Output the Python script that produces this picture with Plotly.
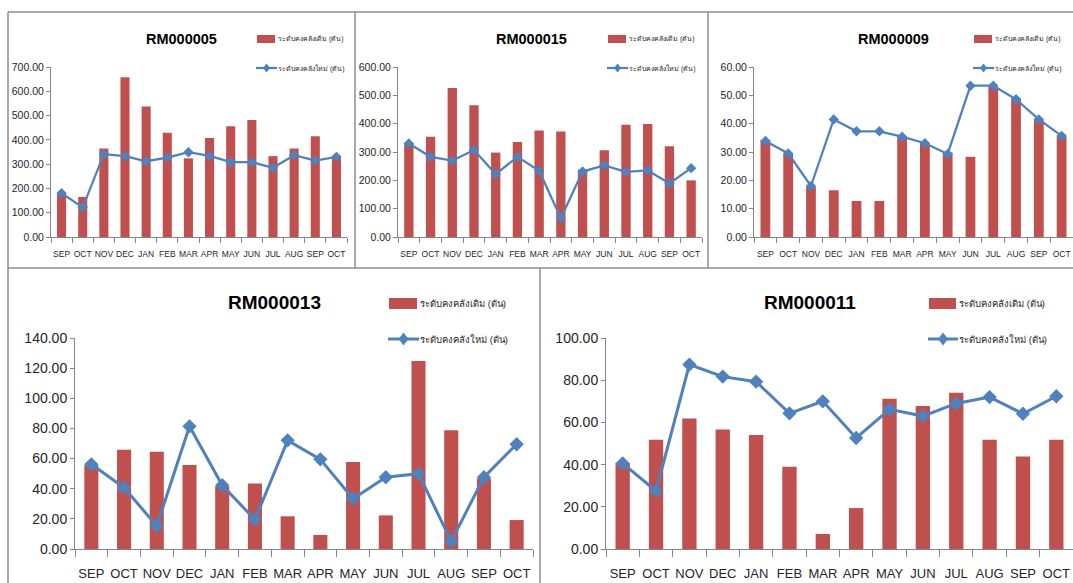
import plotly.graph_objects as go

W, H = 1073, 583

months = ["SEP", "OCT", "NOV", "DEC", "JAN", "FEB", "MAR",
          "APR", "MAY", "JUN", "JUL", "AUG", "SEP", "OCT"]

legend_old = "ระดับคงคลังเดิม (ตัน)"
legend_new = "ระดับคงคลังใหม่ (ตัน)"

# RM000005
rm05_old = [182, 165, 364, 658, 537, 429, 324, 408, 456, 482, 333, 364, 415, 328]
rm05_new = [180, 122, 341, 333, 312, 327, 349, 334, 308, 308, 285, 337, 315, 330]

# RM000015
rm15_old = [330, 354, 526, 465, 298, 335, 376, 372, 238, 306, 396, 399, 320, 200]
rm15_new = [330, 283, 270, 307, 222, 283, 234, 66, 231, 253, 230, 235, 189, 243]

# RM000009
rm09_old = [34.2, 29.5, 17.7, 16.5, 12.7, 12.7, 35.6, 33.0, 29.8, 28.3, 52.9, 49.0, 41.4, 35.6]
rm09_new = [33.9, 29.5, 18.0, 41.5, 37.3, 37.3, 35.4, 33.1, 29.3, 53.4, 53.4, 48.6, 41.5, 35.7]

# RM000013
rm13_old = [55.5, 65.9, 64.6, 55.8, 41.6, 43.4, 21.7, 9.3, 57.7, 22.3, 124.8, 78.8, 46.7, 19.2]
rm13_new = [56.2, 40.7, 15.3, 81.4, 42.3, 19.5, 72.1, 59.5, 33.4, 47.6, 50.0, 5.1, 47.6, 69.5]

# RM000011
rm11_old = [40.8, 51.8, 61.9, 56.6, 54.0, 39.0, 7.1, 19.4, 71.2, 67.8, 74.1, 51.8, 43.8, 51.8]
rm11_new = [40.6, 27.5, 87.4, 81.7, 79.3, 64.3, 70.0, 52.6, 66.2, 63.0, 69.0, 72.0, 64.1, 72.4]

BAR = "#C0504D"
LINE = "#4F81BD"
AXIS = "#868686"
BORDER = "#8C8C8C"
FONT = "Liberation Sans Narrow, Arial Narrow, Liberation Sans, sans-serif"


def px(x):
    return x / W


def py(y):
    return 1 - y / H


# panel layout in pixels: plot box, axis max, dtick, style sizes, title / legend anchors
charts = [
    dict(name="RM000005", old=rm05_old, new=rm05_new, box=(51, 347, 67, 237), ymax=700, dtick=100,
         tick=8.5, ytick=10.5, title=14.5, title_xy=(181, 39), leg=(257, 275, 35, 43, 68),
         leg_font=7, lw=2.25, ms=8),
    dict(name="RM000015", old=rm15_old, new=rm15_new, box=(398, 702, 67, 237), ymax=600, dtick=100,
         tick=8.5, ytick=10.5, title=14.5, title_xy=(531, 39), leg=(608, 626, 35, 43, 68),
         leg_font=7, lw=2.25, ms=8),
    dict(name="RM000009", old=rm09_old, new=rm09_new, box=(754, 1074, 67, 237), ymax=60, dtick=10,
         tick=8.5, ytick=10.5, title=14.5, title_xy=(893, 39), leg=(974, 992, 35, 43, 68),
         leg_font=7, lw=2.25, ms=8),
    dict(name="RM000013", old=rm13_old, new=rm13_new, box=(75, 533, 338, 549), ymax=140, dtick=20,
         tick=13, ytick=14, title=19, title_xy=(274, 302), leg=(389, 417, 298, 309, 339),
         leg_font=9.5, lw=3, ms=11),
    dict(name="RM000011", old=rm11_old, new=rm11_new, box=(606, 1074, 338, 549), ymax=100, dtick=20,
         tick=13, ytick=14, title=19, title_xy=(810, 302), leg=(929, 956, 298, 309, 339),
         leg_font=9.5, lw=3, ms=11),
]

fig = go.Figure()
layout = dict(width=W, height=H, margin=dict(l=0, r=0, t=0, b=0, pad=0, autoexpand=False),
              paper_bgcolor="white", plot_bgcolor="white", showlegend=False,
              font=dict(family=FONT, color="#404040"))
shapes = []
annotations = []
x_idx = list(range(len(months)))

for i, c in enumerate(charts, start=1):
    xa = "x" if i == 1 else f"x{i}"
    ya = "y" if i == 1 else f"y{i}"
    fig.add_trace(go.Bar(x=x_idx, y=c["old"], xaxis=xa, yaxis=ya, width=0.43,
                         marker=dict(color=BAR, line=dict(width=0)), name=legend_old))
    fig.add_trace(go.Scatter(x=x_idx, y=c["new"], xaxis=xa, yaxis=ya, mode="lines+markers",
                             line=dict(color=LINE, width=c["lw"]),
                             marker=dict(symbol="diamond", size=c["ms"], color=LINE),
                             name=legend_new))
    x0, x1, y0, y1 = c["box"]
    small = c["tick"] < 12
    tl = 5 if small else 7
    layout["xaxis" if i == 1 else f"xaxis{i}"] = dict(
        domain=[px(x0), min(px(x1), 1)], anchor=ya, range=[-0.5, 13.5],
        tickmode="array", tickvals=x_idx, ticktext=months, tickangle=0,
        ticks="outside", ticklen=tl, tickcolor="rgba(0,0,0,0)",
        minor=dict(tickmode="linear", tick0=-0.5, dtick=1, ticks="outside",
                   ticklen=tl, tickcolor=AXIS, showgrid=False),
        showline=True, linecolor=AXIS, linewidth=1, showgrid=False, zeroline=False,
        automargin=False,
        tickfont=dict(family=FONT, size=c["tick"], color="#262626"),
        ticklabelstandoff=4 if small else 5, fixedrange=True)
    layout["yaxis" if i == 1 else f"yaxis{i}"] = dict(
        domain=[py(y1), py(y0)], anchor=xa, range=[0, c["ymax"]], dtick=c["dtick"],
        tickformat=".2f", ticks="outside", ticklen=4, tickcolor=AXIS,
        showline=True, linecolor=AXIS, linewidth=1, showgrid=False, zeroline=False,
        automargin=False,
        tickfont=dict(family=FONT, size=c["ytick"], color="#262626"), fixedrange=True)

    tx, ty = c["title_xy"]
    annotations.append(dict(x=px(tx), y=py(ty), xref="paper", yref="paper", text=f"<b>{c['name']}</b>",
                            showarrow=False, xanchor="center", yanchor="middle",
                            font=dict(family=FONT, size=c["title"], color="#000000")))

    lx0, lx1, ly0, ly1, lly = c["leg"]
    shapes.append(dict(type="rect", xref="paper", yref="paper", x0=px(lx0), x1=px(lx1),
                       y0=py(ly1), y1=py(ly0), fillcolor=BAR, line=dict(width=0)))
    shapes.append(dict(type="line", xref="paper", yref="paper", x0=px(lx0 - 1), x1=px(lx1 + 2),
                       y0=py(lly), y1=py(lly), line=dict(color=LINE, width=c["lw"])))
    cx = (lx0 + lx1 + 1) / 2
    hw, hh = (3.5, 4.5) if small else (5, 6.5)
    shapes.append(dict(type="path", xref="paper", yref="paper",
                       path=f"M {px(cx - hw)} {py(lly)} L {px(cx)} {py(lly - hh)} "
                            f"L {px(cx + hw)} {py(lly)} L {px(cx)} {py(lly + hh)} Z",
                       fillcolor=LINE, line=dict(width=0)))
    for txt, yy in ((legend_old, (ly0 + ly1) / 2), (legend_new, lly)):
        annotations.append(dict(x=px(lx1 + 1), y=py(yy), xref="paper", yref="paper", text=txt,
                                showarrow=False, xanchor="left", yanchor="middle",
                                font=dict(family=FONT, size=c["leg_font"], color="#262626")))

# panel frames
frame = [((8, 12), (1073, 12)), ((8, 268), (1073, 268)),
         ((8, 12), (8, 583)), ((355, 12), (355, 268)), ((708, 12), (708, 268)),
         ((540, 268), (540, 583))]
for (ax, ay), (bx, by) in frame:
    shapes.append(dict(type="line", xref="paper", yref="paper", x0=px(ax), y0=py(ay),
                       x1=px(bx), y1=py(by), line=dict(color=BORDER, width=1.5)))

layout["shapes"] = shapes
layout["annotations"] = annotations
fig.update_layout(**layout)
fig.write_html("out.html")
